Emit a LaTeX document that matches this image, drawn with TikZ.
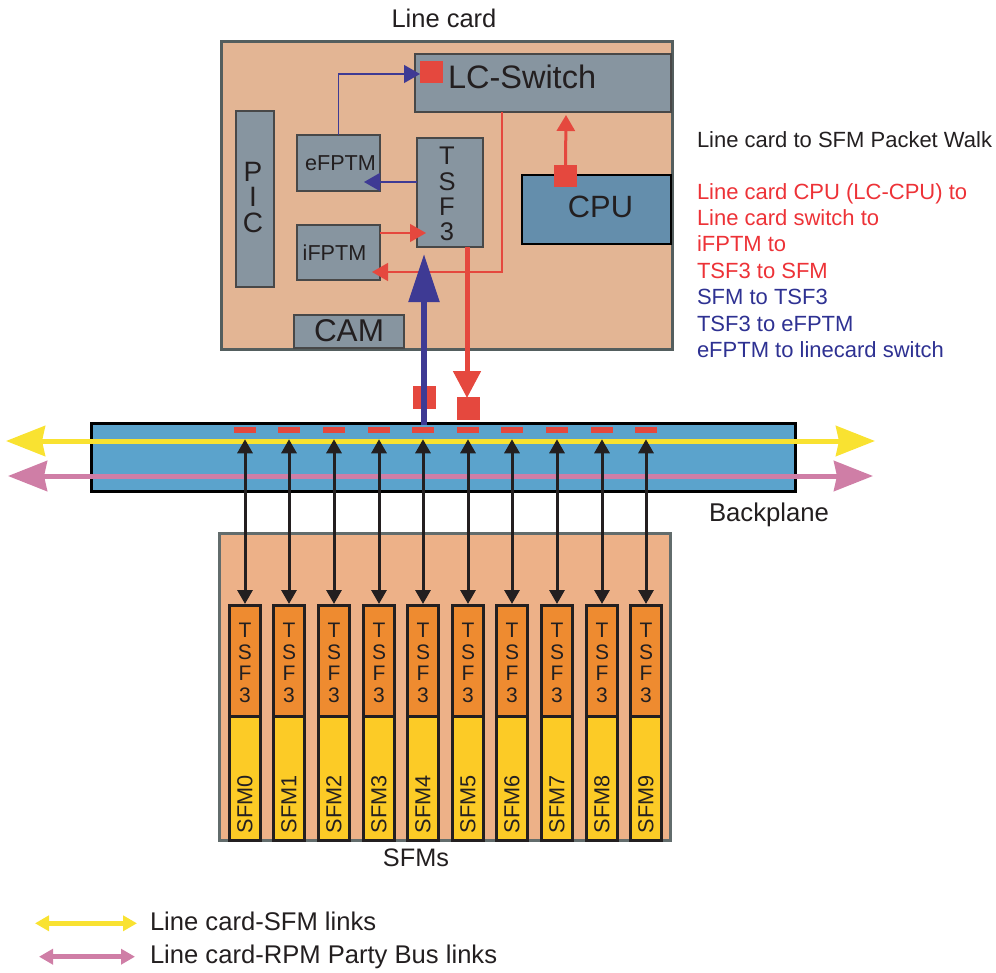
\documentclass[tikz,border=0pt]{standalone}
\usepackage{fontspec}
\setmainfont{Liberation Sans}
\usetikzlibrary{arrows.meta}
\definecolor{lcfill}{RGB}{227,181,148}
\definecolor{lcborder}{RGB}{84,94,94}
\definecolor{modfill}{RGB}{135,149,160}
\definecolor{modborder}{RGB}{72,72,72}
\definecolor{cpufill}{RGB}{100,142,172}
\definecolor{pktred}{RGB}{229,72,62}
\definecolor{txtred}{RGB}{237,50,55}
\definecolor{pktblue}{RGB}{62,58,148}
\definecolor{txtblue}{RGB}{46,49,146}
\definecolor{bpfill}{RGB}{91,163,204}
\definecolor{linkyellow}{RGB}{249,226,49}
\definecolor{linkpink}{RGB}{207,126,166}
\definecolor{sfmfill}{RGB}{237,177,136}
\definecolor{sfmborder}{RGB}{98,108,108}
\definecolor{tsforange}{RGB}{238,139,48}
\definecolor{sfmyellow}{RGB}{252,203,38}
\definecolor{ink}{RGB}{35,31,32}
\newcommand\setfs[2]{\fontsize{#1}{#2}\selectfont}
\begin{document}
\begin{tikzpicture}[x=1pt,y=-1pt,
  every node/.style={inner sep=0pt, outer sep=0pt, text=ink},
  card/.style={draw=lcborder, line width=2.7pt, fill=lcfill},
  module/.style={draw=modborder, line width=1.6pt, fill=modfill},
  redsq/.style={fill=pktred, minimum width=23pt, minimum height=23pt},
  thinred/.style={draw=pktred, line width=1.3pt, -{Triangle[length=16pt,width=18pt]}},
  thinblue/.style={draw=pktblue, line width=1.3pt, -{Triangle[length=16pt,width=18pt]}},
  link/.style={line width=5pt, {Stealth[length=39pt,width=30pt,inset=3pt]}-{Stealth[length=39pt,width=30pt,inset=3pt]}},
  legendlink/.style={line width=4.5pt, {Triangle[length=14pt,width=15pt]}-{Triangle[length=14pt,width=15pt]}},
  sfmlink/.style={draw=ink, line width=3pt, {Triangle[length=14pt,width=15pt]}-{Triangle[length=14pt,width=15pt]}},
  chip/.style={draw=ink, line width=3pt, fill=tsforange, minimum width=31pt, minimum height=111pt},
  sfmcard/.style={draw=ink, line width=3pt, fill=sfmyellow, minimum width=31pt, minimum height=123.5pt},
  dashmark/.style={fill=pktred, minimum width=22pt, minimum height=6.5pt},
]
\useasboundingbox (0,0) rectangle (996,972);

% ---------------- Line card ----------------
\node[card, minimum width=451pt, minimum height=308pt] (lc) at (447,195.5) {};
\node[module, minimum width=256pt, minimum height=58pt] (lcsw) at (543,83) {};
\node[redsq, minimum height=22pt] (swsq) at (431.5,72) {};
\node[anchor=west, font=\setfs{32.5}{36}] (lcswt) at (448,77) {LC-Switch};
\node[module, minimum width=38pt, minimum height=176pt] (pic) at (255,199) {};
\node[font=\setfs{28}{25.7}, align=center] (pict) at (253,197.3) {P\\I\\C};
\node[module, minimum width=83pt, minimum height=56pt] (efptm) at (338.5,163) {};
\node[font=\setfs{21.6}{24}] (efptmt) at (340.5,163) {eFPTM};
\node[module, minimum width=83pt, minimum height=55pt] (ifptm) at (338.5,252.5) {};
\node[font=\setfs{21.6}{24}] (ifptmt) at (334.5,253) {iFPTM};
\node[module, minimum width=66pt, minimum height=109pt] (tsf) at (450,192.5) {};
\node[font=\setfs{25.5}{25.3}, align=center] (tsft) at (447,194.2) {T\\S\\F\\3};
\node[draw=black, line width=2pt, fill=cpufill, minimum width=149pt, minimum height=69pt] (cpu) at (596.5,209.5) {};
\node[font=\setfs{30.8}{34}] (cput) at (600.5,207) {CPU};
\node[redsq, minimum height=22pt] (cpusq) at (565.5,176) {};
\node[module, minimum width=110pt, minimum height=33pt] (cam) at (349,331.5) {};
\node[font=\setfs{31.5}{34}] (camt) at (349,331) {CAM};

% internal connectors
\draw[thinblue] (efptm.north) |- ([xshift=5pt,yshift=9pt]lcsw.west);
\draw[thinblue] ([yshift=10.5pt]tsf.west) -- ([xshift=-16pt,yshift=-19pt]efptm.east);
\draw[thinred] ([yshift=19.5pt]ifptm.east) -- ([xshift=9pt,yshift=-40.5pt]tsf.west);
\draw[thinred] ([xshift=-41pt]lcsw.south) |- ([xshift=-8pt,yshift=-19.5pt]ifptm.east);
\draw[draw=pktred, line width=3pt, -{Triangle[length=16pt,width=18pt]}] (cpusq.north) -- ([xshift=23pt,yshift=-3pt]lcsw.south);

% ---------------- Backplane ----------------
\node[draw=black, line width=3pt, fill=bpfill, minimum width=704pt, minimum height=68pt] (bp) at (443,457.5) {};
\foreach \i/\cx in {0/245,1/289,2/334,3/379,4/423,5/468,6/512,7/557,8/602,9/646}{
  \node[dashmark] (dash\i) at (\cx,430) {};
}
\node[redsq] (bpsq1) at (424.5,397.5) {};
\node[redsq] (bpsq2) at (468.5,408.5) {};

% packet path arrows between line card and backplane
\draw[draw=pktred, line width=5pt, -{Triangle[length=27pt,width=27pt]}] ([xshift=17pt]tsf.south) -- ([xshift=-1.5pt,yshift=-1pt]bpsq2.north);
\draw[draw=pktblue, line width=5.5pt, -{Triangle[length=48pt,width=30pt]}] ([xshift=-19pt,yshift=-1pt]bp.north) -- ([xshift=-26pt,yshift=-7pt]tsf.south);

% links through backplane
\coordinate (yl) at (6,441);
\coordinate (yr) at (875,441);
\coordinate (pl) at (8,476);
\coordinate (pr) at (873,476);
\draw[link, draw=linkyellow, fill=linkyellow] (yl) -- (yr);
\draw[link, draw=linkpink, fill=linkpink] (pl) -- (pr);

% ---------------- SFMs ----------------
\node[draw=sfmborder, line width=3pt, fill=sfmfill, minimum width=450.5pt, minimum height=307pt] (sfms) at (444.75,686.5) {};
\foreach \i/\cx in {0/245,1/289,2/334,3/379,4/423,5/468,6/512,7/557,8/602,9/646}{
  \node[sfmcard] (sfm\i) at (\cx,778.25) {};
  \node[chip] (tsfb\i) at (\cx,661) {};
  \node[font=\setfs{21}{21.7}, align=center] (tsfbt\i) at (\cx,663) {T\\S\\F\\3};
  \node[rotate=90, anchor=west, font=\setfs{21.7}{24}] (sfmt\i) at (\cx,833) {SFM\i};
  \draw[sfmlink] ([yshift=-6pt]dash\i.south) -- ([yshift=1.5pt]tsfb\i.north);
}

% ---------------- Labels ----------------
\node[font=\setfs{25.5}{28}] (lctitle) at (444,18.5) {Line card};
\node[anchor=base, font=\setfs{25.7}{28}] (bplabel) at (769,521) {Backplane};
\node[anchor=base, font=\setfs{25.3}{28}] (sfmlabel) at (416,866.5) {SFMs};

\node[anchor=base west, font=\setfs{22}{26}] (walk) at (697,147) {Line card to SFM Packet Walk};
\node[anchor=base west, font=\setfs{22}{26}, text=txtred] (w1) at (697,199) {Line card CPU (LC-CPU) to};
\node[anchor=base west, font=\setfs{22}{26}, text=txtred] (w2) at (697,225.4) {Line card switch to};
\node[anchor=base west, font=\setfs{22}{26}, text=txtred] (w3) at (697,251.8) {iFPTM to};
\node[anchor=base west, font=\setfs{22}{26}, text=txtred] (w4) at (697,278.2) {TSF3 to SFM};
\node[anchor=base west, font=\setfs{22}{26}, text=txtblue] (w5) at (697,304.6) {SFM to TSF3};
\node[anchor=base west, font=\setfs{22}{26}, text=txtblue] (w6) at (697,331) {TSF3 to eFPTM};
\node[anchor=base west, font=\setfs{22}{26}, text=txtblue] (w7) at (697,357.4) {eFPTM to linecard switch};

% ---------------- Legend ----------------
\coordinate (lg1a) at (35,923.3);
\coordinate (lg1b) at (137,923.3);
\coordinate (lg2a) at (39,956.7);
\coordinate (lg2b) at (135,956.7);
\draw[legendlink, draw=linkyellow, fill=linkyellow] (lg1a) -- (lg1b);
\draw[legendlink, draw=linkpink, fill=linkpink] (lg2a) -- (lg2b);
\node[anchor=base west, font=\setfs{25.6}{28}] (lg1t) at (150,930.7) {Line card-SFM links};
\node[anchor=base west, font=\setfs{25.6}{28}] (lg2t) at (150,963.3) {Line card-RPM Party Bus links};
\end{tikzpicture}
\end{document}
